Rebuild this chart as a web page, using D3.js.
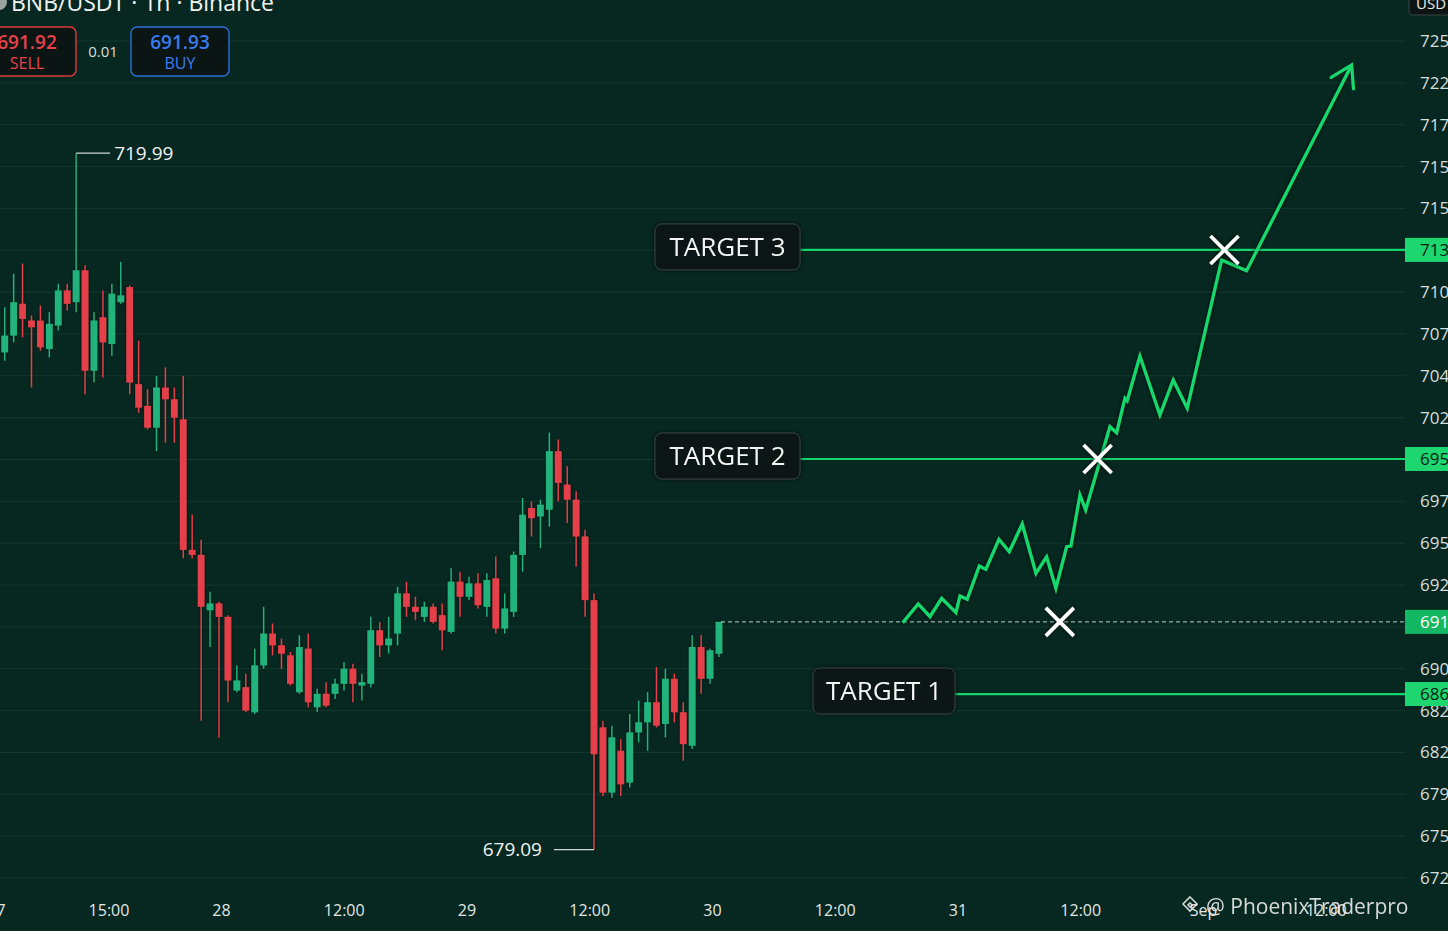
<!DOCTYPE html>
<html><head><meta charset="utf-8">
<script src="https://cdn.jsdelivr.net/npm/d3@7"></script>
<style>html,body{margin:0;padding:0;background:#062820;overflow:hidden}
text{font-family:"Open Sans","Noto Sans",sans-serif}</style>
</head><body><svg id="c" width="1448" height="931"></svg>
<script>
// ---- candle data (1h, BNB/USDT) ----
const opens =[706.4,707.4,709.3,708.3,708.3,706.6,708.0,710.1,709.4,711.3,705.3,708.5,706.9,709.4,710.3,704.5,703.2,701.9,704.3,703.6,702.4,694.6,694.3,691.0,691.4,690.6,686.2,686.4,684.9,687.7,689.6,688.9,688.3,686.1,688.7,685.2,686.0,686.0,686.6,687.5,686.5,686.6,689.8,688.9,689.6,692.0,691.2,690.6,691.2,690.7,689.7,692.7,691.8,692.6,691.2,692.9,689.9,690.9,694.3,697.1,696.6,697.0,700.5,698.5,697.6,695.4,691.6,684.0,680.1,682.6,680.7,683.7,684.3,685.5,684.2,686.9,684.9,682.9,688.8,686.9,688.4];
const highs =[709.1,711.1,711.7,708.6,709.2,708.8,710.5,710.5,718.3,711.6,708.8,710.1,710.5,711.8,710.4,707.1,704.2,705.0,705.5,704.3,705.0,696.7,695.2,692.1,691.5,690.7,687.7,687.2,688.7,691.2,690.2,689.3,688.5,689.5,689.6,686.3,686.7,686.9,687.9,687.8,687.2,690.6,690.3,690.6,692.4,692.7,691.8,691.5,691.4,691.4,693.5,693.3,693.0,693.2,693.2,694.2,692.0,694.5,697.7,697.5,697.6,701.6,701.2,699.6,698.1,695.8,692.0,684.4,684.1,683.3,684.8,685.6,686.1,687.6,687.5,687.2,685.5,689.5,689.5,688.7,690.3];
const lows  =[705.9,707.0,707.3,704.3,706.5,706.1,707.7,708.9,708.8,703.9,704.6,704.9,706.2,709.3,703.9,702.8,701.8,700.5,701.0,701.0,694.1,694.1,684.4,688.8,683.4,685.5,686.1,684.9,684.8,687.5,688.3,687.5,686.5,686.0,685.2,684.9,685.2,685.7,686.2,685.5,685.6,686.4,688.2,688.4,688.9,690.6,690.4,690.3,690.2,688.6,689.6,690.6,691.6,691.1,690.6,689.6,689.6,690.6,693.3,695.4,694.7,696.0,697.5,696.2,693.6,690.6,676.7,679.9,679.8,679.9,680.4,683.1,682.6,684.0,683.4,684.3,682.0,682.7,686.0,686.6,688.2];
const closes=[707.4,709.4,708.4,707.9,706.7,708.1,710.1,709.3,711.3,705.3,708.3,707.0,709.9,709.8,704.6,703.1,701.9,704.3,703.6,702.5,694.6,694.3,691.2,691.4,690.6,686.8,686.8,685.0,687.7,689.6,688.9,688.4,686.6,688.8,685.5,686.0,685.3,686.6,687.5,686.6,686.7,689.8,688.9,689.3,692.0,691.2,690.9,691.2,690.3,689.8,692.7,691.8,692.6,691.3,692.8,689.9,691.1,694.3,696.7,696.5,697.3,700.5,698.6,697.6,695.4,691.6,682.4,680.1,683.4,680.6,683.7,684.3,685.5,684.1,686.9,684.9,683.0,688.8,686.9,688.6,690.3];

// ---- price axis (labels under the highlighted boxes are hidden) ----
const tickPrices=[675,677.5,680,682.5,685,687.5,690,692.5,695,697.5,700,702.5,705,707.5,710,712.5,715,717.5,720,722.5,725];
const tickLabels=["672","675","679","682","682","690","","692","695","697","","702","704","707","710","","715","715","717","722","725"];
// ---- time axis (hours from Aug 28 00:00) ----
const timeTickHours=[-22,-11,0,12,24,36,48,60,72,84,96,108];
const timeTickLabels=["27","15:00","28","12:00","29","12:00","30","12:00","31","12:00","Sep","12:00"];

// ---- targets & price lines ----
const targetNames=["TARGET 1","TARGET 2","TARGET 3"];
const targetPrices=[685.99,700.03,712.52];
const targetAxisLabels=["686","695","713"];
const lastPrice=690.3;
const lastPriceLabel="691";
const highLabel="719.99";
const lowLabel="679.09";

// ---- projected path ----
const projHours =[66.64,68.16,69.31,70.45,71.85,72.24,72.95,74.13,74.78,76.05,77.06,78.33,79.67,80.71,81.62,82.67,83.09,83.97,84.53,86.90,87.56,88.37,88.59,89.83,91.79,93.09,94.46,97.82,100.26,110.53];
const projPrices=[690.25,691.37,690.61,691.71,690.85,691.85,691.65,693.64,693.44,695.23,694.49,696.15,693.20,694.19,692.31,694.79,694.83,697.88,696.98,701.96,701.60,703.66,703.51,706.18,702.66,704.75,703.06,711.92,711.28,723.57];
const crossHours =[82.0,85.7,98.1];
const crossPrices=[690.3,700.03,712.52];

// ---- header ----
const sellPrice="691.92", buyPrice="691.93", spread="0.01";
const titleText="BNB/USDT · 1h · Binance";

const W=1448,H=931, plotRight=1405;
const svg=d3.select("#c");
const defs=svg.append("defs");
const f=defs.append("filter").attr("id","sh").attr("x","-20%").attr("y","-20%").attr("width","140%").attr("height","140%");
f.append("feDropShadow").attr("dx",0).attr("dy",0).attr("stdDeviation",2.2).attr("flood-color","#000").attr("flood-opacity",0.75);
const f2=defs.append("filter").attr("id","sh2").attr("x","-50%").attr("y","-5%").attr("width","200%").attr("height","110%");
f2.append("feDropShadow").attr("dx",0).attr("dy",0).attr("stdDeviation",1.5).attr("flood-color","#000").attr("flood-opacity",0.6);

svg.append("rect").attr("width",W).attr("height",H).attr("fill","#062820");

const y=d3.scaleLinear().domain([675,725]).range([878,41]);
const xBar=d3.scaleLinear().domain([0,opens.length-1]).range([4.7,719]);
const xTime=d3.scaleLinear().domain([0,48]).range([221,712]);

// grid
svg.append("g").selectAll("line").data(tickPrices).join("line")
  .attr("x1",0).attr("x2",plotRight).attr("y1",d=>y(d)).attr("y2",d=>y(d))
  .attr("stroke","#13392f").attr("stroke-width",1);

// candles
const candles=svg.append("g").attr("filter","url(#sh2)");
const idx=d3.range(opens.length);
const col=i=>closes[i]>=opens[i]?"#22b27c":"#e5404a";
candles.selectAll("line").data(idx).join("line")
  .attr("x1",i=>xBar(i)).attr("x2",i=>xBar(i))
  .attr("y1",i=>y(highs[i])).attr("y2",i=>y(lows[i]))
  .attr("stroke",col).attr("stroke-width",1.4);
candles.selectAll("rect").data(idx).join("rect")
  .attr("x",i=>xBar(i)-3.4).attr("width",6.8)
  .attr("y",i=>y(Math.max(opens[i],closes[i])))
  .attr("height",i=>Math.max(1.5,Math.abs(y(opens[i])-y(closes[i]))))
  .attr("fill",col);

// high / low annotations
const hiI=d3.maxIndex(highs), loI=d3.minIndex(lows);
svg.append("line").attr("x1",xBar(hiI)).attr("x2",xBar(hiI)+34).attr("y1",y(highs[hiI])).attr("y2",y(highs[hiI])).attr("stroke","#cfd6d3").attr("stroke-width",1.2);
svg.append("text").attr("x",xBar(hiI)+38).attr("y",y(highs[hiI])).attr("dy","0.35em").attr("fill","#eef2f0").attr("font-size",19).text(highLabel);
svg.append("line").attr("x1",xBar(loI)-40).attr("x2",xBar(loI)).attr("y1",y(lows[loI])).attr("y2",y(lows[loI])).attr("stroke","#cfd6d3").attr("stroke-width",1.2);
svg.append("text").attr("x",xBar(loI)-52).attr("y",y(lows[loI])).attr("dy","0.35em").attr("text-anchor","end").attr("fill","#eef2f0").attr("font-size",19).text(lowLabel);

// current price dashed line
svg.append("line").attr("x1",xBar(opens.length-1)+2).attr("x2",plotRight).attr("y1",y(lastPrice)).attr("y2",y(lastPrice))
  .attr("stroke","#e6ece9").attr("stroke-width",1).attr("stroke-dasharray","4,3").attr("opacity",0.85);

// target lines + labels
const boxes=[{l:813,r:955},{l:655,r:800},{l:655,r:800}];
targetPrices.forEach((p,i)=>{
  const yy=y(p);
  svg.append("line").attr("x1",boxes[i].r).attr("x2",plotRight).attr("y1",yy).attr("y2",yy)
    .attr("stroke","#17d46c").attr("stroke-width",2.2);
  const g=svg.append("g").attr("filter","url(#sh)");
  g.append("rect").attr("x",boxes[i].l).attr("y",yy-26).attr("width",boxes[i].r-boxes[i].l).attr("height",46)
    .attr("rx",7).attr("fill","#0a1412").attr("stroke","#3a4442").attr("stroke-width",1);
  g.append("text").attr("x",(boxes[i].l+boxes[i].r)/2).attr("y",yy-3).attr("dy","0.36em").attr("text-anchor","middle")
    .attr("fill","#f4f6f5").attr("font-size",26).text(targetNames[i]);
});

// projected path
const line=d3.line().x((d,i)=>xTime(projHours[i])).y((d,i)=>y(projPrices[i]));
svg.append("path").datum(projHours).attr("d",line).attr("fill","none")
  .attr("stroke","#19d96d").attr("stroke-width",3.2).attr("stroke-linejoin","miter").attr("filter","url(#sh)");
// arrow head
{
  const n=projHours.length;
  const x1=xTime(projHours[n-2]),y1=y(projPrices[n-2]),x2=xTime(projHours[n-1]),y2=y(projPrices[n-1]);
  const a=Math.atan2(y2-y1,x2-x1), L=24, sp=0.55;
  const p1=[x2-L*Math.cos(a-sp),y2-L*Math.sin(a-sp)], p2=[x2-L*Math.cos(a+sp),y2-L*Math.sin(a+sp)];
  svg.append("path").attr("d",`M${p1}L${x2},${y2}L${p2}`).attr("fill","none")
    .attr("stroke","#19d96d").attr("stroke-width",3.2).attr("stroke-linecap","round");
}
// crosses
crossHours.forEach((h,i)=>{
  const cx=xTime(h), cy=y(crossPrices[i]), s=14;
  svg.append("path").attr("d",`M${cx-s},${cy-s}L${cx+s},${cy+s}M${cx-s},${cy+s}L${cx+s},${cy-s}`)
    .attr("stroke","#ffffff").attr("stroke-width",3.6).attr("filter","url(#sh)");
});

// right price axis
const ay=svg.append("g").attr("transform",`translate(${plotRight},0)`)
  .call(d3.axisRight(y).tickValues(tickPrices).tickFormat((d,i)=>tickLabels[i]).tickSize(0).tickPadding(15));
ay.select(".domain").remove();
ay.selectAll("text").attr("fill","#d8dedb").attr("font-size",17).attr("font-family","'Open Sans',sans-serif");

// highlighted axis boxes
const hl=targetPrices.map((p,i)=>({p,t:targetAxisLabels[i],fill:"#1dd670",tc:"#0b1a12"}));
hl.push({p:lastPrice,t:lastPriceLabel,fill:"#14b862",tc:"#ffffff"});
hl.forEach(b=>{
  svg.append("rect").attr("x",plotRight).attr("y",y(b.p)-12).attr("width",50).attr("height",24).attr("fill",b.fill);
  svg.append("text").attr("x",plotRight+15).attr("y",y(b.p)).attr("dy","0.36em").attr("fill",b.tc).attr("font-size",17).text(b.t);
});

// USD box
svg.append("rect").attr("x",1409).attr("y",-8).attr("width",48).attr("height",23).attr("rx",4).attr("fill","#0c1513").attr("stroke","#3a4442");
svg.append("text").attr("x",1416).attr("y",9).attr("fill","#e8ecea").attr("font-size",15).text("USD");

// time axis
const ax=svg.append("g").attr("transform","translate(0,902)")
  .call(d3.axisBottom(xTime).tickValues(timeTickHours).tickFormat((d,i)=>timeTickLabels[i]).tickSize(0).tickPadding(3));
ax.select(".domain").remove();
ax.selectAll("text").attr("fill","#e2e6e4").attr("font-size",16).attr("font-family","'Open Sans',sans-serif");

// watermark
const wm=svg.append("g").attr("opacity",0.9);
wm.append("path").attr("d","M1190,897 l7,7 l-7,7 l-7,-7 z M1190,903 l2,2 l-2,2 l-2,-2z").attr("fill","none").attr("stroke","#e8e8e8").attr("stroke-width",1.6);
wm.append("text").attr("x",1206).attr("y",914).attr("fill","#ececec").attr("font-size",21).text("@ PhoenixTraderpro");

// header
svg.append("circle").attr("cx",-1).attr("cy",2).attr("r",8).attr("fill","#9aa3a0");
svg.append("text").attr("x",11).attr("y",11).attr("fill","#f2f4f3").attr("font-size",23).text(titleText);
svg.append("rect").attr("x",-10).attr("y",27).attr("width",86).attr("height",49).attr("rx",6).attr("fill","#0b1513").attr("stroke","#e0393e").attr("stroke-width",1.4);
svg.append("text").attr("x",27).attr("y",49).attr("text-anchor","middle").attr("fill","#e8414a").attr("font-size",19).attr("font-weight",600).text(sellPrice);
svg.append("text").attr("x",27).attr("y",69).attr("text-anchor","middle").attr("fill","#e8414a").attr("font-size",16).text("SELL");
svg.append("text").attr("x",103).attr("y",57).attr("text-anchor","middle").attr("fill","#d8dedb").attr("font-size",15).text(spread);
svg.append("rect").attr("x",131).attr("y",27).attr("width",98).attr("height",49).attr("rx",6).attr("fill","#0b1513").attr("stroke","#2f6fd8").attr("stroke-width",1.4);
svg.append("text").attr("x",180).attr("y",49).attr("text-anchor","middle").attr("fill","#3a7cf0").attr("font-size",19).attr("font-weight",600).text(buyPrice);
svg.append("text").attr("x",180).attr("y",69).attr("text-anchor","middle").attr("fill","#3a7cf0").attr("font-size",16).text("BUY");
</script></body></html>
